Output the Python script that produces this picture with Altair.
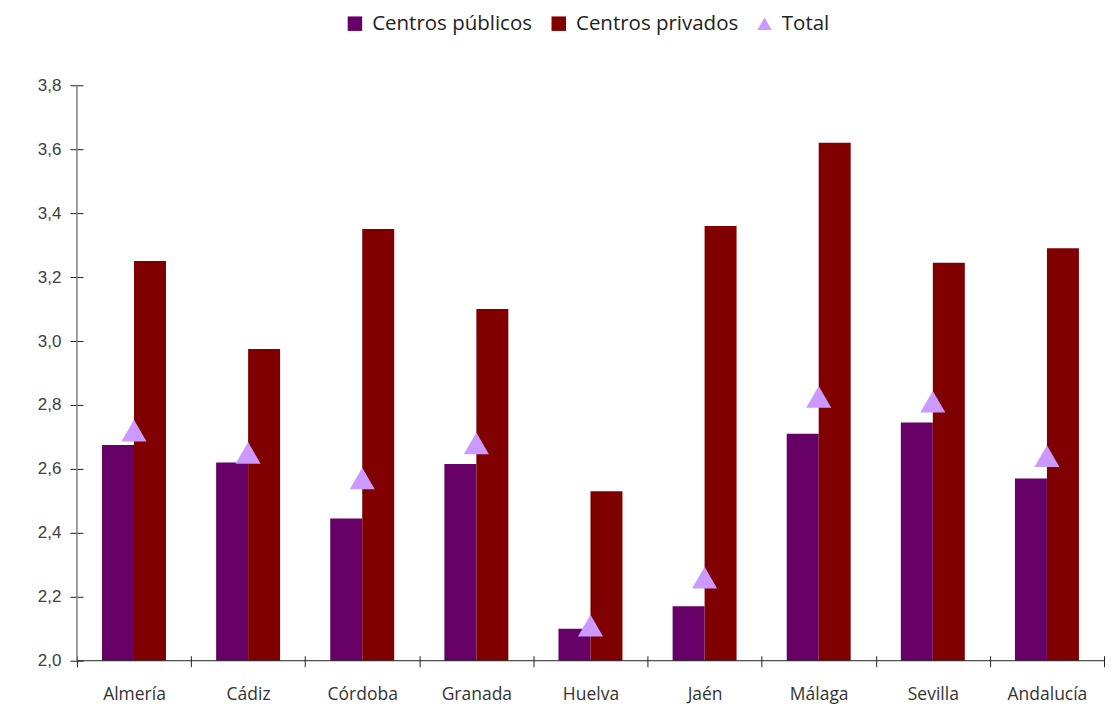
import altair as alt
import pandas as pd

provincias = ["Almería", "Cádiz", "Córdoba", "Granada", "Huelva", "Jaén", "Málaga", "Sevilla", "Andalucía"]
publicos = [2.675, 2.62, 2.445, 2.615, 2.10, 2.17, 2.71, 2.745, 2.57]
privados = [3.25, 2.975, 3.35, 3.10, 2.53, 3.36, 3.62, 3.245, 3.29]
total = [2.72, 2.65, 2.57, 2.68, 2.11, 2.26, 2.825, 2.81, 2.64]
series = ["Centros públicos", "Centros privados", "Total"]
colores = ["#660066", "#800000", "#CC99FF"]
formas = ["square", "square", "triangle-up"]
y_ticks = [2.0, 2.2, 2.4, 2.6, 2.8, 3.0, 3.2, 3.4, 3.6, 3.8]

W, H = 1028, 576

bars_df = pd.DataFrame(
    [{"provincia": p, "serie": series[0], "valor": v} for p, v in zip(provincias, publicos)]
    + [{"provincia": p, "serie": series[1], "valor": v} for p, v in zip(provincias, privados)]
)
pts_df = pd.DataFrame({"provincia": provincias, "serie": series[2], "valor": total})
line_df = pd.DataFrame({"a": [0]})

label_font = "Open Sans"

x_enc = alt.X(
    "provincia:N",
    sort=provincias,
    scale=alt.Scale(paddingInner=0, paddingOuter=0),
    axis=alt.Axis(
        title=None, labelAngle=0, tickBand="extent", tickSize=11, offset=-5,
        domain=False, tickColor="#222222", tickWidth=1, labelPadding=19,
        labelFont=label_font, labelFontSize=17.5, labelColor="#333333",
    ),
)
y_scale = alt.Scale(domain=[2.0, 3.8], nice=False, zero=False)
y_enc = alt.Y(
    "valor:Q",
    scale=y_scale,
    axis=alt.Axis(
        title=None, values=y_ticks, grid=False, domain=False,
        tickSize=13, offset=-6, tickColor="#222222", tickWidth=1,
        labelExpr="replace(format(datum.value, '.1f'), '.', ',')",
        labelFont="Liberation Sans", labelFontSize=17, labelColor="#404040",
        labelPadding=9,
    ),
)

color_scale = alt.Scale(domain=series, range=colores)
legend = alt.Legend(
    title=None, orient="none", direction="horizontal", legendX=268, legendY=-72,
    labelFont=label_font, labelFontSize=20.5, labelColor="#222222", labelLimit=0,
    symbolSize=210, symbolStrokeWidth=0, labelOffset=7, columnPadding=16,
    symbolOpacity=1,
)

bars = alt.Chart(bars_df).mark_bar().encode(
    x=x_enc,
    xOffset=alt.XOffset("serie:N", sort=series[:2], scale=alt.Scale(paddingInner=0, paddingOuter=0.784)),
    y=y_enc,
    y2=alt.datum(2.0),
    color=alt.Color("serie:N", scale=color_scale, legend=legend),
)

points = alt.Chart(pts_df).mark_point(filled=True, size=630, opacity=1).encode(
    x=alt.X("provincia:N", sort=provincias),
    y=alt.Y("valor:Q"),
    color=alt.Color("serie:N", scale=color_scale, legend=legend),
    shape=alt.Shape("serie:N", scale=alt.Scale(domain=series, range=formas), legend=legend),
)

y_line = alt.Chart(line_df).mark_rule(color="#808080", strokeWidth=1.5).encode(
    x=alt.value(0), y=alt.datum(3.8), y2=alt.datum(2.0)
)
x_line = alt.Chart(line_df).mark_rule(color="#222222", strokeWidth=1).encode(
    x=alt.value(0), x2=alt.value(W), y=alt.datum(2.0)
)

chart = (
    alt.layer(bars, points, y_line, x_line)
    .properties(
        width=W, height=H,
        padding={"left": 29, "top": 5, "right": 0, "bottom": 5},
        view=alt.ViewBackground(stroke="transparent", strokeWidth=0),
    )
    .configure_view(stroke="transparent", strokeWidth=0)
    .configure(background="white")
)

chart.save("out.html", embed_options={"renderer": "svg", "actions": False})
